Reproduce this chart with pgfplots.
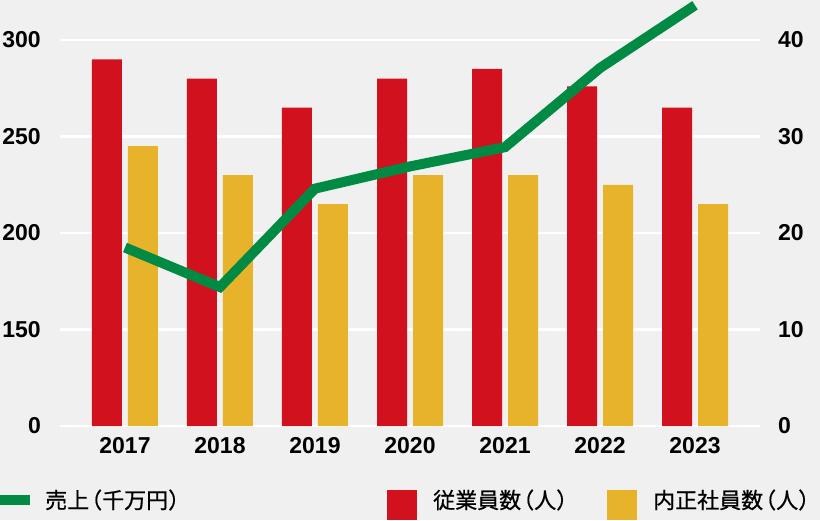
\documentclass[border=0pt]{standalone}
\usepackage{pgfplots}
\pgfplotsset{compat=1.18}
\usepackage{fontspec}
\setmainfont{Liberation Sans}
\newfontfamily\jp[FakeBold=0.6]{Noto Sans CJK JP}
\definecolor{bg}{HTML}{F0F0F0}
\definecolor{cred}{HTML}{D1121E}
\definecolor{cyellow}{HTML}{E6B32A}
\definecolor{cgreen}{HTML}{008A43}
\newcommand{\lp}{\kern-9pt（}
\newcommand{\rp}{）\kern-9pt}
\begin{document}
\begin{tikzpicture}
\useasboundingbox (-60pt,-94pt) rectangle (760pt,426pt);
\fill[bg] (-60pt,-94pt) rectangle (760pt,426pt);
\pgfplotsset{
  base/.style={
    width=700pt, height=426pt, scale only axis,
    at={(0pt,0pt)}, anchor=south west,
    xmin=-0.684, xmax=6.684,
    axis line style={draw=none},
    tick style={draw=none},
    major tick length=0pt,
    /pgf/number format/assume math mode=true,
    tick label style={font=\bfseries\fontsize{23}{23}\selectfont, inner sep=0pt},
  }
}
\begin{axis}[base,
  ymin=100, ymax=320.73,
  ytick={100,150,200,250,300},
  yticklabels={0,150,200,250,300},
  yticklabel style={anchor=east, xshift=-19pt},
  xtick={0,1,2,3,4,5,6},
  xticklabels={2017,2018,2019,2020,2021,2022,2023},
  xticklabel style={anchor=center, yshift=-20pt},
  ymajorgrids, grid style={white, line width=2.2pt},
]
\addplot[ybar, bar width=30pt, bar shift=-18pt, fill=cred, draw=none]
  coordinates {(0,290) (1,280) (2,265) (3,280) (4,285) (5,276) (6,265)};
\addplot[ybar, bar width=30pt, bar shift=18pt, fill=cyellow, draw=none]
  coordinates {(0,245) (1,230) (2,215) (3,230) (4,230) (5,225) (6,215)};
\end{axis}
\begin{axis}[base,
  ymin=0, ymax=44.15,
  ytick={0,10,20,30,40},
  xtick=\empty,
  yticklabel pos=right,
  yticklabel style={anchor=west, xshift=18pt},
  clip=false,
]
\addplot[cgreen, line width=10pt, line join=miter, mark=none]
  coordinates {(0,18.5) (1,14.4) (2,24.6) (3,26.9) (4,28.9) (5,37.1) (6,43.6)};
\end{axis}
% legend
\draw[cgreen, line width=10pt] (-60pt,-74pt) -- (-30pt,-74pt);
\node[anchor=west, inner sep=0pt, font=\jp\fontsize{22}{22}\selectfont] at (-15pt,-74pt) {売上\lp 千万円\rp};
\fill[cred] (327pt,-94pt) rectangle (357pt,-64pt);
\node[anchor=west, inner sep=0pt, font=\jp\fontsize{22}{22}\selectfont] at (373pt,-74pt) {従業員数\lp 人\rp};
\fill[cyellow] (547pt,-94pt) rectangle (577pt,-64pt);
\node[anchor=west, inner sep=0pt, font=\jp\fontsize{22}{22}\selectfont] at (593pt,-74pt) {内正社員数\lp 人\rp};
\end{tikzpicture}
\end{document}
